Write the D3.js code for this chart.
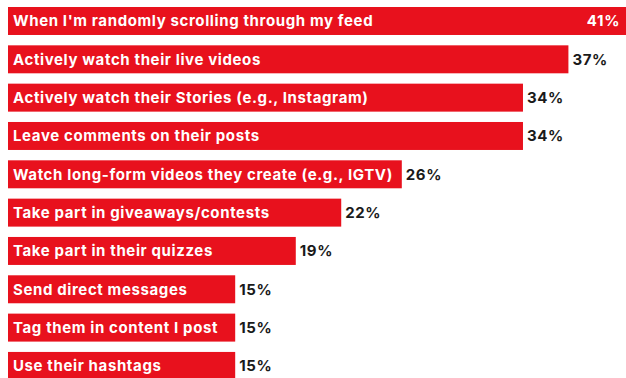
<!DOCTYPE html>
<html>
<head>
<meta charset="utf-8">
<script src="https://cdn.jsdelivr.net/npm/d3@7"></script>
<style>
  html, body { margin: 0; padding: 0; background: #fff; }
  svg { display: block; }
  text { font-family: Inter, "Open Sans", "DejaVu Sans", sans-serif; font-weight: 700; letter-spacing: 0.62px; }
</style>
</head>
<body>
<svg id="chart" width="626" height="378"></svg>
<script>
const categories = [
  "When I'm randomly scrolling through my feed",
  "Actively watch their live videos",
  "Actively watch their Stories (e.g., Instagram)",
  "Leave comments on their posts",
  "Watch long-form videos they create (e.g., IGTV)",
  "Take part in giveaways/contests",
  "Take part in their quizzes",
  "Send direct messages",
  "Tag them in content I post",
  "Use their hashtags"
];
const values = [41, 37, 34, 34, 26, 22, 19, 15, 15, 15];
const valueLabels = ["41%", "37%", "34%", "34%", "26%", "22%", "19%", "15%", "15%", "15%"];

const data = categories.map((c, i) => ({ c, v: values[i], l: valueLabels[i], i }));

const svg = d3.select("#chart");
const W = 626, H = 378;

const x = d3.scaleLinear().domain([0, 41]).range([8, 629]);
const y = d3.scaleBand()
  .domain(categories)
  .range([1.83, 385.1])
  .paddingInner(0.27)
  .paddingOuter(0.135);

const red = "#e8111d";

const g = svg.append("g");

g.selectAll("rect.bar")
  .data(data)
  .join("rect")
  .attr("class", "bar")
  .attr("x", x(0))
  .attr("y", d => y(d.c))
  .attr("width", d => x(d.v) - x(0))
  .attr("height", y.bandwidth())
  .attr("fill", red);

g.selectAll("text.cat")
  .data(data)
  .join("text")
  .attr("class", "cat")
  .attr("x", x(0) + 5)
  .attr("y", d => y(d.c) + y.bandwidth() / 2)
  .attr("dy", "0.36em")
  .attr("fill", "#fff")
  .style("font-size", "15px")
  .text(d => d.c);

g.selectAll("text.val")
  .data(data)
  .join("text")
  .attr("class", "val")
  .attr("x", d => d.i === 0 ? W - 6 : x(d.v) + 4)
  .attr("y", d => y(d.c) + y.bandwidth() / 2)
  .attr("dy", "0.36em")
  .attr("text-anchor", d => d.i === 0 ? "end" : "start")
  .attr("fill", d => d.i === 0 ? "#fff" : "#1a1a1a")
  .style("font-size", "15px")
  .text(d => d.l);
</script>
</body>
</html>
